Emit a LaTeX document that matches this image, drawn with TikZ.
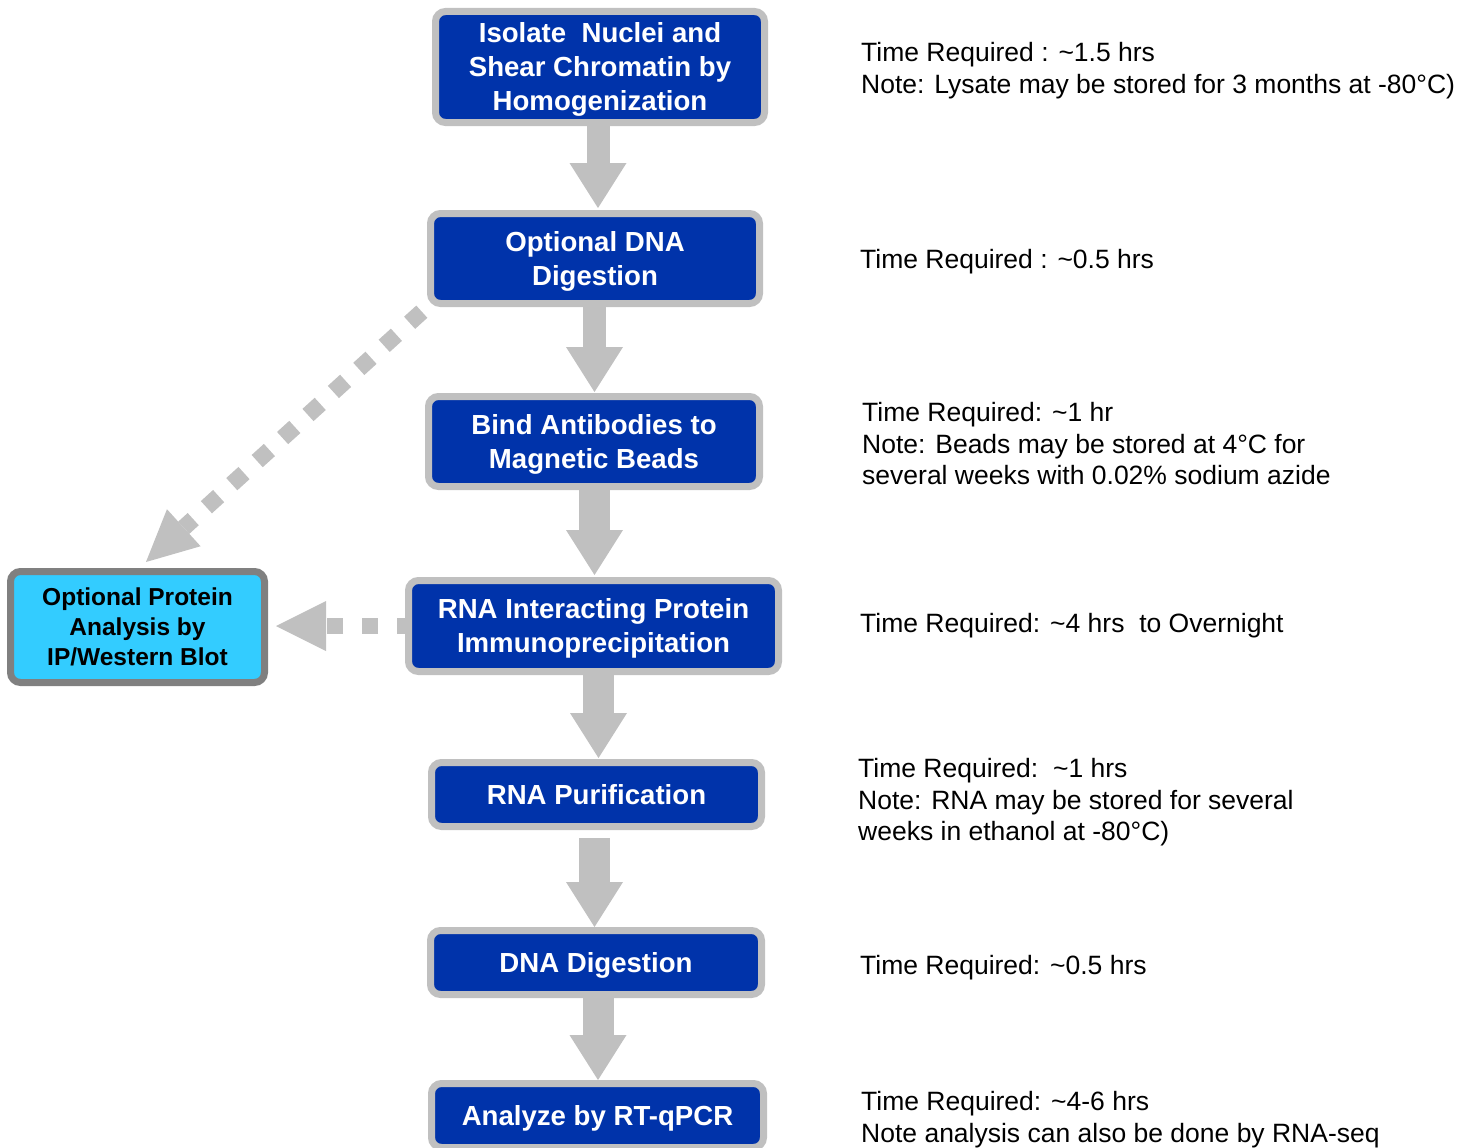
\documentclass[tikz,border=0pt]{standalone}
\usepackage{fontspec}
\setmainfont{Liberation Sans}
\usetikzlibrary{arrows.meta,backgrounds}
\definecolor{bblue}{RGB}{0,51,170}
\definecolor{lgray}{RGB}{192,192,192}
\definecolor{dgray}{RGB}{128,128,128}
\definecolor{cyanbox}{RGB}{51,204,255}
\newcommand{\mytop}{\rule{0pt}{25.8pt}}
\newcommand{\mybot}{\rule[-6pt]{0pt}{6pt}}
\newcommand{\sidetop}{\rule{0pt}{22.5pt}}
\newcommand{\sidebot}{\rule[-5pt]{0pt}{5pt}}
\begin{document}
\begin{tikzpicture}[x=1pt,y=-1pt,
  stepbox/.style={draw=lgray, fill=bblue, line width=7pt, rounded corners=10pt,
    text=white, inner sep=0pt, align=center,
    font=\bfseries\fontsize{27.6}{34}\selectfont},
  sidebox/.style={draw=dgray, fill=cyanbox, line width=7pt, rounded corners=10pt,
    text=black, inner sep=0pt, align=center,
    font=\bfseries\fontsize{24.5}{30}\selectfont},
  note/.style={anchor=north west, align=left, inner sep=0pt,
    font=\fontsize{26.5}{31.5}\selectfont},
  flow/.style={draw=lgray, line width=#1,
    -{Triangle[width=57pt,length=45pt,line width=0pt]}},
  optarrow/.style={draw=lgray, line width=16.5pt,
    -{Triangle[width=50pt,length=51pt,line width=0pt]}}
]
\useasboundingbox (0,0) rectangle (1476,1148);

% main steps
\node[stepbox, minimum width=329pt, minimum height=111pt] (b1) at (600,67)
  {\mytop Isolate\ \ Nuclei and\\Shear Chromatin by\\Homogenization\mybot};
\node[stepbox, minimum width=329pt, minimum height=90pt] (b2) at (595,258.5)
  {\mytop Optional DNA\\Digestion\mybot};
\node[stepbox, minimum width=331pt, minimum height=90pt] (b3) at (594,441.5)
  {\mytop Bind Antibodies to\\Magnetic Beads\mybot};
\node[stepbox, minimum width=370pt, minimum height=91pt] (b4) at (593.5,626)
  {\mytop RNA Interacting Protein\\Immunoprecipitation\mybot};
\node[stepbox, minimum width=330pt, minimum height=64pt] (b5) at (596.5,794.5)
  {\mytop RNA Purification\mybot};
\node[stepbox, minimum width=331pt, minimum height=64pt] (b6) at (596,962.5)
  {\mytop DNA Digestion\mybot};
\node[stepbox, minimum width=332pt, minimum height=64pt] (b7) at (597.5,1115.5)
  {\mytop Analyze by RT-qPCR\mybot};

% side box
\node[sidebox, minimum width=254pt, minimum height=111pt] (lb) at (137.5,627)
  {\sidetop Optional Protein\\Analysis by\\IP/Western Blot\sidebot};

% notes
\node[note] (t1) at (861,41.5) {\rule{0pt}{20pt}Time Required : \textasciitilde1.5 hrs\\Note: Lysate may be stored for 3 months at -80°C)};
\node[note] (t2) at (860,248.5) {\rule{0pt}{20pt}Time Required : \textasciitilde0.5 hrs};
\node[note] (t3) at (862,401.5) {\rule{0pt}{20pt}Time Required: \textasciitilde1 hr\\Note: Beads may be stored at 4°C for\\several weeks with 0.02\% sodium azide};
\node[note] (t4) at (860,612.5) {\rule{0pt}{20pt}Time Required: \textasciitilde4 hrs\ \ to Overnight};
\node[note] (t5) at (858,757.5) {\rule{0pt}{20pt}Time Required:\ \ \textasciitilde1 hrs\\Note: RNA may be stored for several\\weeks in ethanol at -80°C)};
\node[note] (t6) at (860,954.5) {\rule{0pt}{20pt}Time Required: \textasciitilde0.5 hrs};
\node[note] (t7) at (861,1090.5) {\rule{0pt}{20pt}Time Required: \textasciitilde4-6 hrs\\Note analysis can also be done by RNA-seq};

% connectors behind the boxes
\begin{scope}[on background layer]
  \fill[white] (0,0) rectangle (1476,1148);
  \coordinate (a1) at ([xshift=-2pt]b1.south);
  \coordinate (a2) at ([xshift=-0.5pt]b2.south);
  \coordinate (a3) at ([xshift=0.5pt]b3.south);
  \coordinate (a4) at ([xshift=5pt]b4.south);
  \coordinate (a5) at ([xshift=-2pt]b5.south);
  \coordinate (a6) at ([xshift=2pt]b6.south);
  \draw[flow=23pt, shorten >=2pt] (a1) -- (a1 |- b2.north);
  \draw[flow=23pt, shorten >=1pt] (a2) -- (a2 |- b3.north);
  \draw[flow=31pt, shorten >=2pt] (a3) -- (a3 |- b4.north);
  \draw[flow=31pt, shorten >=1pt] (a4) -- (a4 |- b5.north);
  \draw[flow=31pt, shorten <=8pt] (a5) -- (a5 |- b6.north);
  \draw[flow=31pt] (a6) -- (a6 |- b7.north);
  % optional branches
  \draw[optarrow, dash pattern=on 16.5pt off 17.8pt, dash phase=27.3pt]
    (b2.south west) -- ([xshift=8.5pt,yshift=6pt]lb.north);
  \draw[optarrow, line width=16pt, dash pattern=on 16pt off 19pt, dash phase=8pt,
    -{Triangle[width=50pt,length=50pt,line width=0pt]}, shorten >=8pt]
    (b4.west) -- (b4.west -| lb.east);
\end{scope}
\end{tikzpicture}
\end{document}
